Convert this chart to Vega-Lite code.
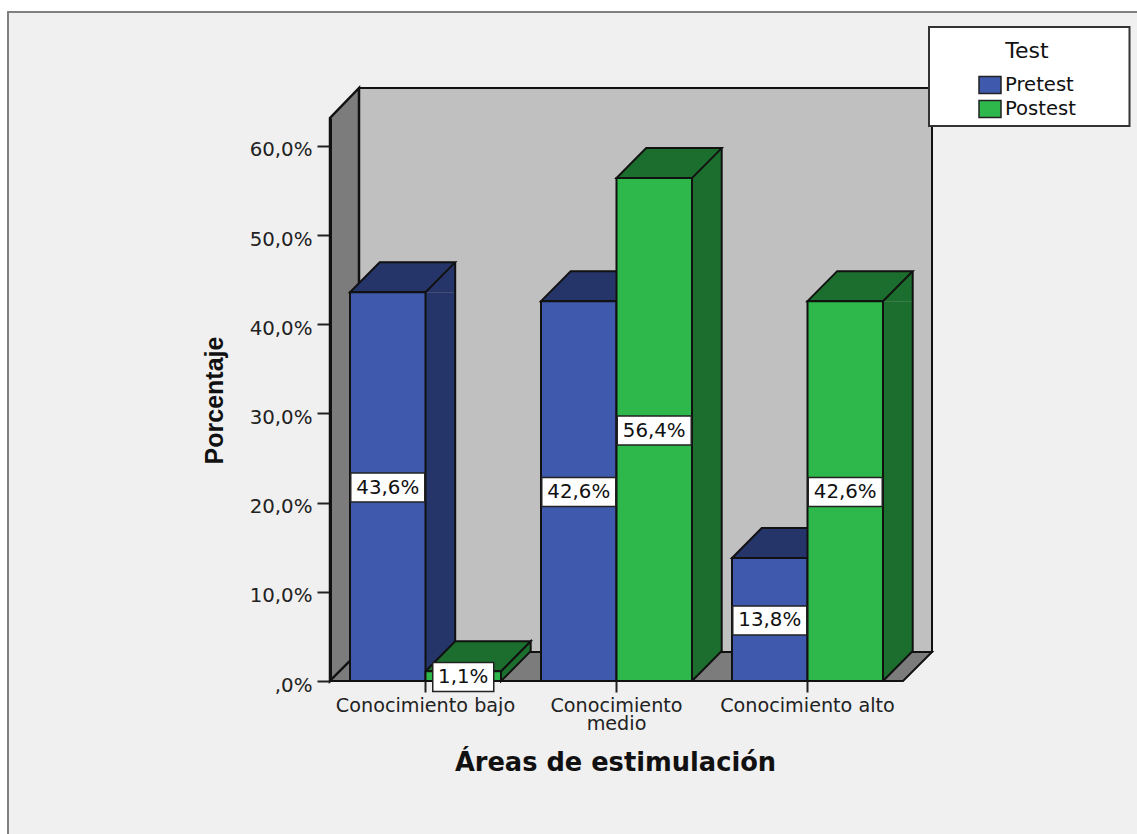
{
  "$schema": "https://vega.github.io/schema/vega-lite/v6.json",
  "width": 573,
  "height": 563,
  "autosize": {"type": "none"},
  "padding": {"left": 330, "top": 118, "right": 234, "bottom": 153},
  "background": "white",
  "config": {
    "view": {"stroke": null},
    "locale": {"number": {"decimal": ",", "thousands": ".", "grouping": [3], "currency": ["", "%"]}},
    "text": {"font": "DejaVu Sans"}
  },
  "datasets": {
    "barras": [
      {"area": "Conocimiento bajo", "test": "Pretest", "pct": 43.6},
      {"area": "Conocimiento bajo", "test": "Postest", "pct": 1.1},
      {"area": "Conocimiento medio", "test": "Pretest", "pct": 42.6},
      {"area": "Conocimiento medio", "test": "Postest", "pct": 56.4},
      {"area": "Conocimiento alto", "test": "Pretest", "pct": 13.8},
      {"area": "Conocimiento alto", "test": "Postest", "pct": 42.6}
    ],
    "base": [{"area": "Conocimiento bajo", "pct": 0}]
  },
  "encoding": {
    "x": {
      "field": "area",
      "type": "nominal",
      "sort": ["Conocimiento bajo", "Conocimiento medio", "Conocimiento alto"],
      "scale": {"paddingInner": 0, "paddingOuter": 0},
      "axis": {
        "zindex": 1,
        "domain": false,
        "title": "Áreas de estimulación",
        "titleFont": "DejaVu Sans",
        "titleFontWeight": "bold",
        "titleFontSize": 25.7,
        "titleColor": "#111",
        "titleX": 285,
        "titleY": 81,
        "titleBaseline": "middle",
        "labelAngle": 0,
        "labelFont": "DejaVu Sans",
        "labelFontSize": 19.2,
        "labelColor": "#222",
        "labelPadding": 4,
        "labelLineHeight": 18,
        "labelLimit": 300,
        "labelExpr": "datum.value == 'Conocimiento medio' ? ['Conocimiento', 'medio'] : datum.value",
        "tickSize": 11,
        "tickWidth": 2,
        "tickColor": "#222"
      }
    }
  },
  "layer": [
    {
      "encoding": {
        "y": {
          "field": "pct",
          "type": "quantitative",
          "scale": {"domain": [0, 63.14], "nice": false},
          "axis": {
            "zindex": 1,
            "title": "Porcentaje",
            "titleFont": "Liberation Sans",
            "titleFontWeight": "bold",
            "titleFontSize": 25,
            "titleColor": "#111",
            "titleX": -103,
            "titleY": 282,
            "values": [0, 10, 20, 30, 40, 50, 60],
            "grid": false,
            "labelFont": "DejaVu Sans",
            "labelFontSize": 19.8,
            "labelColor": "#222",
            "labelPadding": 5,
            "labelOffset": 4,
            "labelExpr": "datum.value == 0 ? ',0%' : format(datum.value, '$.1f')",
            "tickSize": 13,
            "tickWidth": 2,
            "tickColor": "#222",
            "domainColor": "#111",
            "domainWidth": 3
          }
        }
      },
      "layer": [
        {
          "description": "Chart panel behind everything",
          "data": {"name": "base"},
          "mark": {"type": "point", "filled": true, "size": 4, "fill": "#f0f0f0", "stroke": "#808080", "strokeWidth": 2, "opacity": 1,
            "shape": "M-417.5,170 L-417.5,-669 L720,-669 L720,170 Z"}
        },
        {
          "description": "Back wall of the 3D box",
          "data": {"name": "base"},
          "mark": {"type": "point", "filled": true, "size": 4, "fill": "#c0c0c0", "stroke": "#111", "strokeWidth": 2, "opacity": 1,
            "shape": "M-66.5,-29 L506.5,-29 L506.5,-593 L-66.5,-593 Z"}
        },
        {
          "description": "Left wall of the 3D box",
          "data": {"name": "base"},
          "mark": {"type": "point", "filled": true, "size": 4, "fill": "#7c7c7c", "stroke": "#111", "strokeWidth": 2.5, "opacity": 1,
            "shape": "M-95.5,0 L-66.5,-29 L-66.5,-593 L-95.5,-563 Z"}
        },
        {
          "description": "Floor of the 3D box",
          "data": {"name": "base"},
          "mark": {"type": "point", "filled": true, "size": 4, "fill": "#7c7c7c", "stroke": "#111", "strokeWidth": 2, "opacity": 1,
            "shape": "M-95.5,0 L-66.5,-29 L506.5,-29 L477.5,0 Z"}
        },
        {
          "description": "Legend box",
          "data": {"name": "base"},
          "mark": {"type": "point", "filled": true, "size": 4, "fill": "white", "stroke": "#333", "strokeWidth": 2, "opacity": 1,
            "shape": "M503.5,-654 L704,-654 L704,-555 L503.5,-555 Z"}
        },
        {
          "description": "Side face of the Pretest bars, straight part",
          "data": {"name": "barras"},
          "transform": [{"filter": "datum.test == 'Pretest' && datum.pct > 10"}],
          "mark": {"type": "rule", "strokeWidth": 29.7, "xOffset": 14.85, "y2Offset": -30, "color": "#263569"},
          "encoding": {"y2": {"datum": 0}}
        },
        {
          "description": "Side face of the Postest bars, straight part",
          "data": {"name": "barras"},
          "transform": [{"filter": "datum.test == 'Postest' && datum.pct > 10"}],
          "mark": {"type": "rule", "strokeWidth": 29.7, "xOffset": 90.35, "y2Offset": -30, "color": "#1c6e2e"},
          "encoding": {"y2": {"datum": 0}}
        },
        {
          "description": "Side face, upper triangle",
          "data": {"name": "barras"},
          "transform": [{"filter": "datum.pct > 10"}],
          "mark": {"type": "point", "filled": true, "size": 4, "opacity": 1, "shape": "M37.75,0 L67.45,-30 L67.45,0 Z"},
          "encoding": {
            "xOffset": {"field": "test", "sort": ["Pretest", "Postest"], "scale": {"paddingInner": 0, "paddingOuter": 0.265}},
            "fill": {"field": "test", "legend": null, "scale": {"domain": ["Postest", "Pretest"], "range": ["#1c6e2e", "#263569"]}}
          }
        },
        {
          "description": "Side face, lower triangle",
          "data": {"name": "barras"},
          "transform": [{"filter": "datum.pct > 10"}],
          "mark": {"type": "point", "filled": true, "size": 4, "opacity": 1, "shape": "M37.75,0 L67.45,-30 L37.75,-30 Z"},
          "encoding": {
            "xOffset": {"field": "test", "sort": ["Pretest", "Postest"]},
            "fill": {"field": "test", "legend": null},
            "y": {"datum": 0}
          }
        },
        {
          "description": "Side face, lower edge",
          "data": {"name": "barras"},
          "transform": [{"filter": "datum.pct > 10"}],
          "mark": {"type": "point", "filled": false, "size": 4, "opacity": 1, "stroke": "#111", "strokeWidth": 2, "shape": "M37.75,0 L67.45,-30"},
          "encoding": {
            "xOffset": {"field": "test", "sort": ["Pretest", "Postest"]},
            "y": {"datum": 0}
          }
        },
        {
          "description": "Far vertical edge of the Pretest bars",
          "data": {"name": "barras"},
          "transform": [{"filter": "datum.test == 'Pretest' && datum.pct > 10"}],
          "mark": {"type": "rule", "strokeWidth": 2, "xOffset": 29.7, "yOffset": -30, "y2Offset": -30, "color": "#111"},
          "encoding": {"y2": {"datum": 0}}
        },
        {
          "description": "Far vertical edge of the Postest bars",
          "data": {"name": "barras"},
          "transform": [{"filter": "datum.test == 'Postest' && datum.pct > 10"}],
          "mark": {"type": "rule", "strokeWidth": 2, "xOffset": 105.2, "yOffset": -30, "y2Offset": -30, "color": "#111"},
          "encoding": {"y2": {"datum": 0}}
        },
        {
          "description": "Side face of a bar shorter than the depth offset",
          "data": {"name": "barras"},
          "transform": [{"filter": "datum.pct <= 10"}],
          "mark": {"type": "point", "filled": true, "size": 4, "opacity": 1, "stroke": "#111", "strokeWidth": 2, "shape": "M37.75,0 L67.45,-30 L67.45,-20 L37.75,10 Z"},
          "encoding": {
            "xOffset": {"field": "test", "sort": ["Pretest", "Postest"]},
            "fill": {"field": "test", "legend": null}
          }
        },
        {
          "description": "Top face",
          "data": {"name": "barras"},
          "mark": {"type": "point", "filled": true, "size": 4, "opacity": 1, "stroke": "#111", "strokeWidth": 2, "shape": "M-37.75,0 L37.75,0 L67.45,-30 L-8.05,-30 Z"},
          "encoding": {
            "xOffset": {"field": "test", "sort": ["Pretest", "Postest"]},
            "fill": {"field": "test", "legend": null}
          }
        },
        {
          "description": "Front face",
          "data": {"name": "barras"},
          "mark": {"type": "bar", "stroke": "#111", "strokeWidth": 2, "width": 75.5},
          "encoding": {
            "xOffset": {"field": "test", "sort": ["Pretest", "Postest"]},
            "y2": {"datum": 0},
            "color": {
              "field": "test",
              "type": "nominal",
              "scale": {"domain": ["Pretest", "Postest"], "range": ["#3f59ad", "#2eb84b"]},
              "legend": {
                "title": "Test",
                "orient": "none",
                "legendX": 648,
                "legendY": -77,
                "padding": 0,
                "titleFont": "DejaVu Sans",
                "titleFontWeight": "normal",
                "titleFontSize": 22,
                "titleColor": "#111",
                "titleAnchor": "middle",
                "titlePadding": 10,
                "labelFont": "DejaVu Sans",
                "labelFontSize": 19.6,
                "labelColor": "#111",
                "labelOffset": 3,
                "rowPadding": -1,
                "symbolType": "M-1,-0.77 H1 V0.77 H-1 Z",
                "symbolSize": 484,
                "symbolStrokeColor": "#222",
                "symbolStrokeWidth": 1.5,
                "symbolOpacity": 1
              }
            }
          }
        }
      ]
    },
    {
      "description": "Value labels sit at half of each bar's height: this scale spans twice the range of the bars' scale",
      "data": {"name": "barras"},
      "encoding": {
        "y": {
          "field": "pct",
          "type": "quantitative",
          "scale": {"domain": [0, 126.28], "nice": false},
          "axis": null
        },
        "xOffset": {"field": "test", "sort": ["Pretest", "Postest"]}
      },
      "layer": [
        {
          "transform": [{"filter": "datum.pct >= 10"}],
          "mark": {"type": "point", "filled": true, "size": 4, "fill": "white", "opacity": 1, "stroke": "#222", "strokeWidth": 1.5, "shape": "M-37,-13.5 L37,-13.5 L37,15.5 L-37,15.5 Z"}
        },
        {
          "transform": [{"filter": "datum.pct < 10"}],
          "mark": {"type": "point", "filled": true, "size": 4, "fill": "white", "opacity": 1, "stroke": "#222", "strokeWidth": 1.5, "shape": "M-30.5,-13.5 L30.5,-13.5 L30.5,15.5 L-30.5,15.5 Z"}
        },
        {
          "mark": {"type": "text", "font": "DejaVu Sans", "fontSize": 19.8, "fill": "#111", "baseline": "middle", "align": "center", "yOffset": 1},
          "encoding": {
            "text": {"field": "pct", "type": "quantitative", "format": "$.1f"}
          }
        }
      ]
    }
  ],
  "resolve": {"scale": {"y": "independent"}}
}
